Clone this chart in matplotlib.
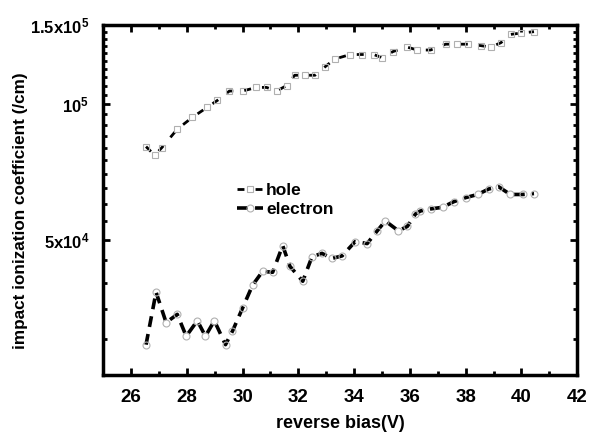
import numpy as np
import matplotlib
matplotlib.use('Agg')
import matplotlib.pyplot as plt
from matplotlib.ticker import FixedLocator, NullFormatter, MultipleLocator

plt.rcParams['font.family'] = ['Liberation Sans', 'DejaVu Sans']
plt.rcParams['font.weight'] = 'bold'
plt.rcParams['mathtext.fontset'] = 'custom'
plt.rcParams['mathtext.rm'] = 'Liberation Sans:bold'
plt.rcParams['mathtext.bf'] = 'Liberation Sans:bold'
plt.rcParams['mathtext.default'] = 'bf'

# data
hole_v = [26.54, 26.85, 27.1, 27.66, 28.2, 28.74, 29.1, 29.53, 30.0, 30.5, 30.86,
          31.22, 31.58, 31.87, 32.23, 32.6, 32.95, 33.3, 33.86, 34.3, 34.7, 35.0,
          35.4, 35.9, 36.27, 36.74, 37.28, 37.7, 38.1, 38.54, 38.9, 39.26, 39.62,
          39.98, 40.45]
hole_a = [8.05e4, 7.7e4, 8.0e4, 8.8e4, 9.35e4, 9.85e4, 1.02e5, 1.07e5, 1.07e5, 1.09e5, 1.09e5,
          1.07e5, 1.10e5, 1.16e5, 1.16e5, 1.16e5, 1.21e5, 1.26e5, 1.29e5, 1.29e5, 1.29e5, 1.27e5,
          1.31e5, 1.34e5, 1.32e5, 1.32e5, 1.36e5, 1.36e5, 1.36e5, 1.35e5, 1.34e5, 1.37e5, 1.43e5,
          1.44e5, 1.45e5]

elec_v = [26.54, 26.9, 27.26, 27.66, 27.98, 28.38, 28.67, 28.99, 29.39, 29.64, 30.0,
          30.36, 30.72, 31.08, 31.44, 31.7, 32.16, 32.49, 32.85, 33.2, 33.57, 34.04,
          34.47, 34.83, 35.12, 35.59, 35.91, 36.2, 36.38, 36.74, 37.17, 37.57, 38.0,
          38.43, 38.83, 39.19, 39.6, 40.05, 40.45]
elec_a = [2.92e4, 3.82e4, 3.27e4, 3.41e4, 3.05e4, 3.30e4, 3.05e4, 3.30e4, 2.92e4, 3.13e4, 3.52e4,
          3.96e4, 4.25e4, 4.23e4, 4.85e4, 4.36e4, 4.04e4, 4.58e4, 4.66e4, 4.54e4, 4.6e4, 4.95e4,
          4.9e4, 5.23e4, 5.5e4, 5.23e4, 5.35e4, 5.7e4, 5.79e4, 5.85e4, 5.9e4, 6.07e4, 6.2e4,
          6.3e4, 6.48e4, 6.55e4, 6.3e4, 6.3e4, 6.33e4]

xticks = [26, 28, 30, 32, 34, 36, 38, 40, 42]
yticks = [5e4, 1e5, 1.5e5]
ylabels = [r'5x10$^4$', r'10$^5$', r'1.5x10$^5$']

fig = plt.figure(figsize=(5.89, 4.32), dpi=100)
ax = fig.add_axes([0.175, 0.132, 0.805, 0.81])

ax.plot(hole_v, hole_a, color='black', lw=2.0, ls=(0, (2.5, 4)),
        marker='s', ms=4.5, mfc='none', mec='#b0b0b0', mew=0.8, label='hole')
ax.plot(elec_v, elec_a, color='black', lw=2.6, ls=(0, (3, 2)),
        marker='o', ms=5, mfc='none', mec='#b0b0b0', mew=0.8, label='electron')

ax.set_yscale('log')
ax.set_xlim(25, 42)
ax.set_ylim(2.5e4, 1.5e5)

ax.xaxis.set_major_locator(FixedLocator(xticks))
ax.xaxis.set_minor_locator(MultipleLocator(1))
ax.yaxis.set_major_locator(FixedLocator(yticks))
ax.yaxis.set_minor_locator(FixedLocator(np.arange(2.5e4, 1.5e5, 5e3)))
ax.yaxis.set_minor_formatter(NullFormatter())
ax.set_yticklabels(ylabels)

ax.tick_params(which='both', direction='in', top=True, right=True, width=2)
ax.tick_params(which='major', length=5)
ax.tick_params(axis='x', which='major', pad=10, labelsize=13.5)
ax.tick_params(axis='y', which='major', pad=10, labelsize=12)
ax.tick_params(which='minor', length=3)
for lab in ax.get_xticklabels() + ax.get_yticklabels():
    lab.set_fontweight('bold')
for s in ax.spines.values():
    s.set_linewidth(2.5)

ax.set_xlabel('reverse bias(V)', fontsize=13, fontweight='bold')
ax.xaxis.set_label_coords(0.5, -0.113)
ax.set_ylabel('impact ionization coefficient (/cm)', fontsize=12.3, fontweight='bold')
ax.yaxis.set_label_coords(-0.158, 0.47)

leg = ax.legend(loc='center left', bbox_to_anchor=(0.25, 0.5), frameon=False,
                fontsize=12.5, handlelength=1.5, handletextpad=0.15, labelspacing=0.25)
for t in leg.get_texts():
    t.set_fontweight('bold')

fig.savefig('out.png', dpi=100)
